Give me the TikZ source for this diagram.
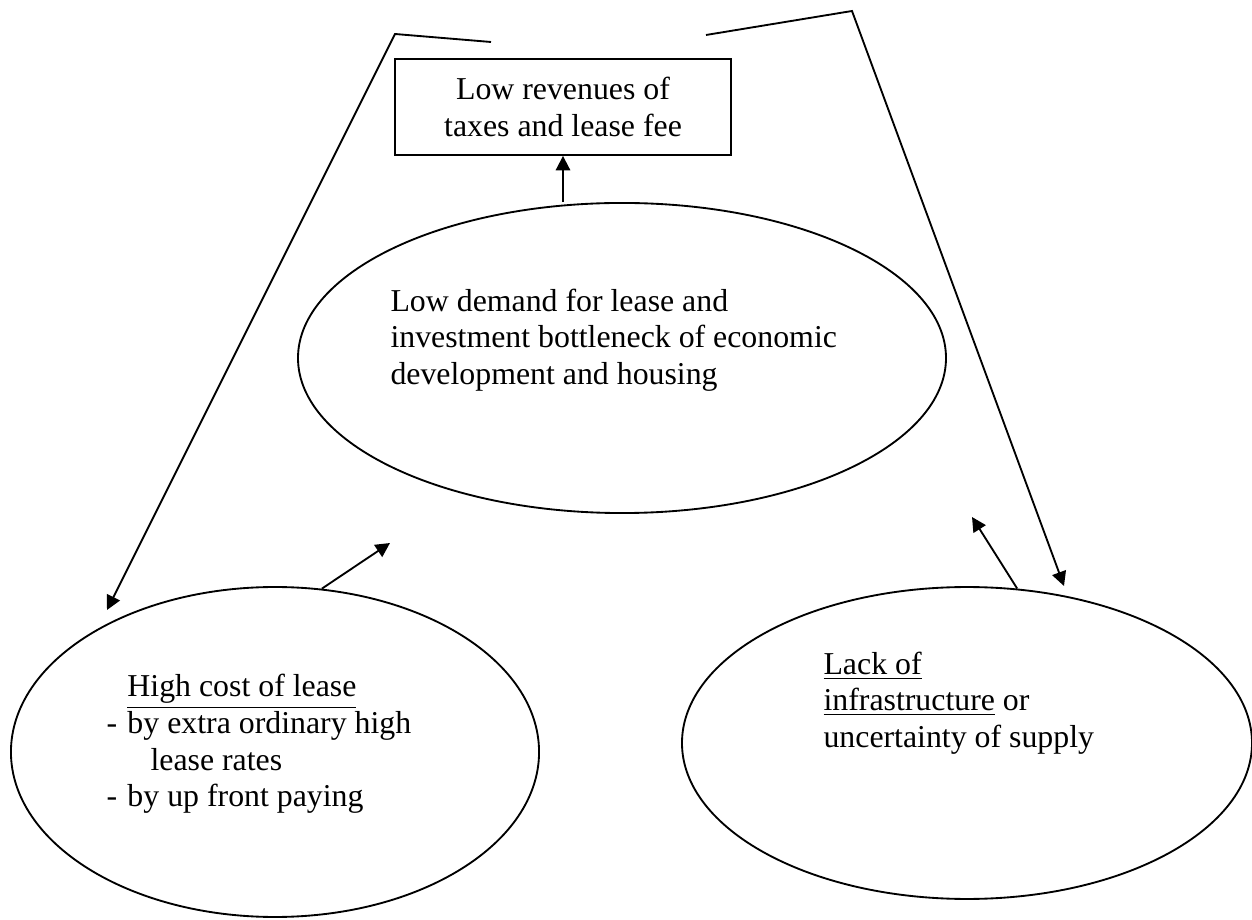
\documentclass[tikz,border=0pt]{standalone}
\usepackage{fontspec}
\setmainfont{Liberation Serif}
\usetikzlibrary{shapes.geometric, arrows.meta, positioning}

\tikzset{
  txt/.style={font=\fontsize{12}{13.8}\selectfont, inner sep=0pt, align=left},
  bubble/.style={draw, ellipse, inner sep=0pt, line width=0.7pt},
  arr/.style={line width=0.7pt, -{Triangle[length=5.4pt, width=5.4pt]}},
}

\begin{document}
\begin{tikzpicture}[x=0.377pt, y=-0.377pt]
  \useasboundingbox (0,0) rectangle (1252,920);

  % Revenue box
  \node[draw, line width=0.7pt, txt, align=center, minimum width=126.7pt, minimum height=36.2pt] (revenues) at (563,107) {Low revenues of\\taxes and lease fee};

  % Ellipses
  \node[bubble, minimum width=244.3pt, minimum height=116.9pt] (demand) at (622,358) {};
  \node[bubble, minimum width=199.1pt, minimum height=124.4pt] (cost) at (275,752) {};
  \node[bubble, minimum width=214.9pt, minimum height=117.6pt] (supply) at (967,743) {};

  % Texts inside the ellipses
  \node[txt, anchor=west] (demandtxt) at (390,340) {Low demand for lease and\\investment bottleneck of economic\\development and housing};
  \node[txt, anchor=west] (costtxt) at (106,744) {\hspace*{7.9pt}\underline{High cost of lease}\\\makebox[7.9pt][l]{-}by extra ordinary high\\\hspace*{16.6pt}lease rates\\\makebox[7.9pt][l]{-}by up front paying};
  \node[txt, anchor=west] (supplytxt) at (823,703) {\underline{Lack of}\\\underline{infrastructure} or\\uncertainty of supply};

  % Free ends of the connectors
  \coordinate (costtip) at (390,543);
  \coordinate (supplytip) at (972,517);
  \coordinate (leftend) at (491,42);
  \coordinate (leftbend) at (395,34);
  \coordinate (lefttip) at (107,610);
  \coordinate (rightend) at (706,35);
  \coordinate (rightbend) at (852,11);
  \coordinate (righttip) at (1064,586);

  % Connectors
  \draw[arr] (revenues.south |- demand.north) -- (revenues.south);
  \draw[arr] (cost.74) -- (costtip);
  \draw[arr] (supply.72) -- (supplytip);
  \draw[arr] (leftend) -- (leftbend) -- (lefttip);
  \draw[arr] (rightend) -- (rightbend) -- (righttip);
\end{tikzpicture}
\end{document}
